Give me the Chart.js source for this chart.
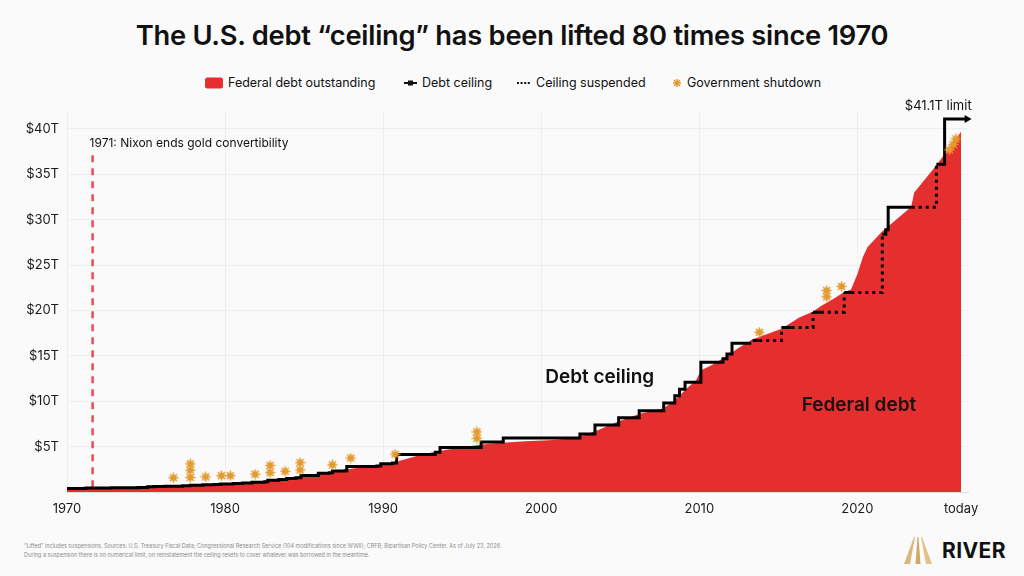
<!DOCTYPE html>
<html>
<head>
<meta charset="utf-8">
<script src="https://cdn.jsdelivr.net/npm/chart.js@4.4.1/dist/chart.umd.min.js"></script>
<style>
    html, body { margin: 0; padding: 0; background: #fafafa; }
    body { width: 1024px; height: 576px; position: relative; overflow: hidden;
           font-family: Inter, "Noto Sans", sans-serif; color: #111; }
    #title { position: absolute; top: 19px; left: 0; width: 1024px; text-align: center;
             font-size: 27.3px; font-weight: 600; line-height: 34px; letter-spacing: -0.25px; }
    .legend-item { position: absolute; top: 75px; height: 16px; line-height: 16px;
                   font-size: 12.5px; white-space: nowrap; display: flex; align-items: center; }
    .legend-item svg { margin-right: 5px; }
    #wrap { position: absolute; left: 0; top: 95px; width: 1024px; height: 430px; }
    #foot { position: absolute; left: 24px; top: 542px; font-size: 11px; line-height: 16.5px;
            color: #8c8c8c; transform: scale(0.5); transform-origin: 0 0; white-space: nowrap; }
    #logo { position: absolute; left: 904px; top: 537px; display: flex; align-items: center; }
    #logo span { font-size: 21px; font-weight: 700; margin-left: 10px; letter-spacing: 0.4px; }
</style>
</head>
<body>
<div id="title">The U.S. debt “ceiling” has been lifted 80 times since 1970</div>

<div class="legend-item" style="left:205px">
    <svg width="18" height="12"><rect x="0" y="0.5" width="18" height="11" rx="2.5" fill="#e52e2e"/></svg>Federal debt outstanding
</div>
<div class="legend-item" style="left:404px">
    <svg width="13" height="12"><line x1="0" y1="6" x2="13" y2="6" stroke="#111" stroke-width="2"/><rect x="4" y="3.5" width="5" height="5" fill="#111"/></svg>Debt ceiling
</div>
<div class="legend-item" style="left:517px">
    <svg width="14" height="12"><line x1="0" y1="6" x2="14" y2="6" stroke="#111" stroke-width="2" stroke-dasharray="2 1.6"/></svg>Ceiling suspended
</div>
<div class="legend-item" style="left:672px">
    <svg width="10" height="12" viewBox="-5 -6 10 12"><g stroke="#e39a2f" stroke-width="1.5"><line x1="-4" y1="0" x2="4" y2="0"/><line x1="0" y1="-4" x2="0" y2="4"/><line x1="-3" y1="-3" x2="3" y2="3"/><line x1="-3" y1="3" x2="3" y2="-3"/></g><circle r="2.2" fill="#e39a2f"/></svg>Government shutdown
</div>

<div id="wrap"><canvas id="chart" width="1024" height="430"></canvas></div>

<div id="foot">“Lifted” includes suspensions. Sources: U.S. Treasury Fiscal Data; Congressional Research Service (104 modifications since WWII); CRFB; Bipartisan Policy Center. As of July 23, 2026.<br>During a suspension there is no numerical limit; on reinstatement the ceiling resets to cover whatever was borrowed in the meantime.</div>

<div id="logo">
    <svg width="28" height="27" viewBox="0 0 28 27">
        <polygon points="0,27 6,27 11,0 10,0" fill="#d9b87f"/>
        <polygon points="11.5,27 16.5,27 14.5,0 13.5,0" fill="#cfa968"/>
        <polygon points="22,27 28,27 18,0 17,0" fill="#e2c38c"/>
    </svg>
    <span>RIVER</span>
</div>

<script>
// Federal debt outstanding, $ trillions
const debtYears = [1970, 1972, 1974, 1975, 1976, 1977, 1978, 1979, 1980, 1981, 1982, 1983, 1984,
    1985, 1986, 1987, 1988, 1989, 1990, 1990.8, 1992, 1993.2, 1994.5, 1996.1, 1997.3, 1999, 2000.5,
    2001.5, 2002.4, 2003.5, 2004.8, 2006.2, 2007.7, 2008.3, 2008.8, 2009.2, 2009.8, 2010.1, 2010.8,
    2011.9, 2012.5, 2013.35, 2014.3, 2015.2, 2016.3, 2017.2, 2017.7, 2018.5, 2019.05, 2019.6,
    2020.0, 2020.35, 2020.65, 2021.5, 2023.4, 2023.6, 2025.0, 2026.56];
const debtTrillions = [0.37, 0.43, 0.48, 0.53, 0.62, 0.70, 0.77, 0.83, 0.90, 0.99, 1.12, 1.34, 1.54,
    1.78, 2.07, 2.30, 2.55, 2.80, 3.05, 3.30, 3.90, 4.40, 4.80, 5.20, 5.40, 5.60, 5.70,
    5.85, 6.10, 6.75, 7.70, 8.60, 9.20, 9.90, 10.7, 11.4, 12.3, 13.4, 14.0,
    15.15, 15.9, 16.8, 17.4, 18.0, 19.2, 19.9, 20.5, 21.3, 21.9, 22.3,
    24.0, 25.9, 27.0, 28.6, 31.4, 33.0, 36.0, 39.7];

// Debt ceiling while in force (null = suspended)
const ceilingYears = [1970, 1970.5, 1971.2, 1972.5, 1972.8, 1974.5, 1975.1, 1975.5, 1976.2, 1976.5,
    1977.3, 1977.8, 1978.6, 1979.3, 1979.7, 1980.5, 1981.1, 1981.7, 1982.5, 1982.7, 1983.4, 1983.9,
    1984.4, 1984.5, 1984.8, 1985.9, 1986.6, 1986.8, 1987.4, 1987.6, 1987.7, 1989.6, 1989.85, 1990.6,
    1990.85, 1993.3, 1993.6, 1996.2, 1997.6, 2002.45, 2003.4, 2004.9, 2006.2, 2007.75, 2008.45,
    2008.75, 2009.1, 2010.1, 2011.5, 2011.75, 2012.07, 2013.1,
    2013.2, 2013.38, 2013.79,
    2014.5, 2015.2, 2015.84,
    2016.5, 2017.2, 2017.69,
    2018.5, 2019.17, 2019.62,
    2020.5, 2021.58, 2021.8, 2021.95, 2023.44,
    2024.2, 2025.0, 2025.52, 2026.85];
const ceilingTrillions = [0.377, 0.395, 0.43, 0.45, 0.465, 0.495, 0.577, 0.595, 0.627, 0.636,
    0.70, 0.752, 0.798, 0.83, 0.879, 0.925, 0.985, 1.079, 1.143, 1.29, 1.389, 1.49,
    1.52, 1.573, 1.824, 2.079, 2.111, 2.30, 2.32, 2.352, 2.80, 2.87, 3.123, 3.195,
    4.145, 4.37, 4.90, 5.50, 5.95, 6.40, 7.384, 8.184, 8.965, 9.815, 10.615,
    11.315, 12.104, 14.294, 14.694, 15.194, 16.394, 16.394,
    null, 16.699, 16.699,
    null, 18.113, 18.113,
    null, 19.809, 19.809,
    null, 21.988, 21.988,
    null, 28.401, 28.881, 31.381, 31.381,
    null, 36.104, 41.104, 41.104];

// Suspension periods: level when suspended -> level on reinstatement
const suspendedYears = [2013.1, 2013.38, 2013.4, 2013.79, 2015.2, 2015.5, 2015.84, 2017.2, 2017.4,
    2017.69, 2019.17, 2019.4, 2019.62, 2021.58, 2022.5, 2023.44, 2025.0];
const suspendedTrillions = [16.394, 16.699, null, 16.699, 18.113, null, 18.113, 19.809, null,
    19.809, 21.988, null, 21.988, 28.401, null, 31.381, 36.104];

// Government shutdowns (plotted just above the debt line)
const shutdownYears = [1976.73, 1977.8, 1977.8, 1977.8, 1978.77, 1979.77, 1980.33, 1981.9,
    1982.85, 1982.85, 1983.8, 1984.75, 1984.75, 1986.79, 1987.95, 1990.76, 1995.93, 1995.93,
    2013.8, 2018.06, 2018.06, 2019.0, 2025.82, 2026.07, 2026.24];
const shutdownTrillions = [1.57, 1.6, 2.4, 3.1, 1.67, 1.8, 1.8, 1.96,
    2.14, 2.93, 2.28, 2.43, 3.23, 3.0, 3.74, 4.17, 5.91, 6.63,
    17.6, 21.5, 22.2, 22.65, 37.7, 38.3, 38.9];

const xTickYears = [1970, 1980, 1990, 2000, 2010, 2020];
const TODAY = 2026.56;
const NIXON_YEAR = 1971.62;

const FONT = 'Inter, "Noto Sans", sans-serif';

function toPoints(xs, ys) {
    return xs.map((x, i) => ({ x: x, y: ys[i] }));
}

// Little orange "burst" used for shutdown markers.
function makeShutdownIcon() {
    const c = document.createElement('canvas');
    c.width = 11; c.height = 11;
    const g = c.getContext('2d');
    g.translate(5.5, 5.5);
    g.strokeStyle = '#e39a2f';
    g.lineWidth = 1.5;
    for (let i = 0; i < 4; i++) {
        const a = i * Math.PI / 4;
        g.beginPath();
        g.moveTo(-5 * Math.cos(a), -5 * Math.sin(a));
        g.lineTo(5 * Math.cos(a), 5 * Math.sin(a));
        g.stroke();
    }
    g.fillStyle = '#e39a2f';
    g.beginPath();
    g.arc(0, 0, 3, 0, Math.PI * 2);
    g.fill();
    return c;
}

const underlayPlugin = {
    id: 'underlay',
    beforeDatasetsDraw(chart) {
        const { ctx, scales: { x, y } } = chart;
        const nx = x.getPixelForValue(NIXON_YEAR);
        ctx.save();
        ctx.strokeStyle = '#ef4a50';
        ctx.lineWidth = 2.5;
        ctx.setLineDash([7, 6]);
        ctx.beginPath();
        ctx.moveTo(nx, y.getPixelForValue(37.1));
        ctx.lineTo(nx, y.getPixelForValue(0));
        ctx.stroke();
        ctx.restore();
    }
};

const labelsPlugin = {
    id: 'labels',
    afterDatasetsDraw(chart) {
        const { ctx, scales: { x, y } } = chart;
        ctx.save();
        ctx.fillStyle = '#111';
        ctx.textBaseline = 'middle';

        // Nixon note
        ctx.font = '12px ' + FONT;
        ctx.textAlign = 'left';
        ctx.fillText('1971: Nixon ends gold convertibility', x.getPixelForValue(NIXON_YEAR) - 3, y.getPixelForValue(38.45));

        // In-chart series labels
        ctx.font = '600 19px ' + FONT;
        ctx.textAlign = 'center';
        ctx.fillText('Debt ceiling', x.getPixelForValue(2003.7), y.getPixelForValue(12.65));
        ctx.fillStyle = '#1c1010';
        ctx.fillText('Federal debt', x.getPixelForValue(2020.1), y.getPixelForValue(9.6));

        // Arrowhead + "$41.1T limit" at the end of the ceiling line
        const meta = chart.getDatasetMeta(1);
        const last = meta.data[meta.data.length - 1];
        ctx.fillStyle = '#000';
        ctx.beginPath();
        ctx.moveTo(last.x + 6, last.y);
        ctx.lineTo(last.x - 1, last.y - 4);
        ctx.lineTo(last.x - 1, last.y + 4);
        ctx.closePath();
        ctx.fill();

        ctx.font = '13px ' + FONT;
        ctx.textAlign = 'right';
        ctx.fillStyle = '#111';
        ctx.fillText('$41.1T limit', last.x + 6, last.y - 13);
        ctx.restore();
    }
};

const shutdownIcon = makeShutdownIcon();

new Chart(document.getElementById('chart'), {
    type: 'line',
    data: {
        datasets: [
            {
                label: 'Government shutdown',
                data: toPoints(shutdownYears, shutdownTrillions),
                showLine: false,
                pointStyle: shutdownIcon,
                pointRadius: 5,
                order: 0
            },
            {
                label: 'Debt ceiling',
                data: toPoints(ceilingYears, ceilingTrillions),
                stepped: true,
                spanGaps: false,
                borderColor: '#000',
                borderWidth: 3,
                borderJoinStyle: 'miter',
                pointRadius: 0,
                fill: false,
                clip: false,
                order: 1
            },
            {
                label: 'Ceiling suspended',
                data: toPoints(suspendedYears, suspendedTrillions),
                stepped: true,
                spanGaps: false,
                borderColor: '#000',
                borderWidth: 3,
                borderDash: [3, 4],
                pointRadius: 0,
                fill: false,
                order: 2
            },
            {
                label: 'Federal debt outstanding',
                data: toPoints(debtYears, debtTrillions),
                fill: 'origin',
                backgroundColor: '#e52e2e',
                borderWidth: 0,
                pointRadius: 0,
                tension: 0,
                order: 3
            }
        ]
    },
    options: {
        responsive: false,
        animation: false,
        layout: { padding: { top: 13, right: 56, left: 0, bottom: 0 } },
        plugins: {
            legend: { display: false },
            tooltip: { enabled: false }
        },
        scales: {
            x: {
                type: 'linear',
                min: 1970,
                max: 2027,
                afterBuildTicks: (scale) => {
                    scale.ticks = xTickYears.concat([TODAY]).map(v => ({ value: v }));
                },
                afterFit: (scale) => { scale.height = 33; },
                ticks: {
                    autoSkip: false,
                    maxRotation: 0,
                    padding: 9,
                    color: '#1a1a1a',
                    font: { family: FONT, size: 13 },
                    callback: (v) => v === TODAY ? 'today' : String(v)
                },
                grid: {
                    drawTicks: false,
                    color: (ctx) => (ctx.tick && ctx.tick.value === TODAY) ? 'rgba(0,0,0,0)' : '#eeeeee'
                },
                border: { display: true, color: '#dcdcdc' }
            },
            y: {
                min: 0,
                max: 42,
                afterFit: (scale) => { scale.width = 67; },
                ticks: {
                    stepSize: 5,
                    includeBounds: false,
                    padding: 8,
                    color: '#1a1a1a',
                    font: { family: FONT, size: 13 },
                    callback: (v) => v === 0 ? '' : '$' + v + 'T'
                },
                grid: { drawTicks: false, color: '#eeeeee' },
                border: { display: false }
            }
        }
    },
    plugins: [underlayPlugin, labelsPlugin]
});
</script>
</body>
</html>
